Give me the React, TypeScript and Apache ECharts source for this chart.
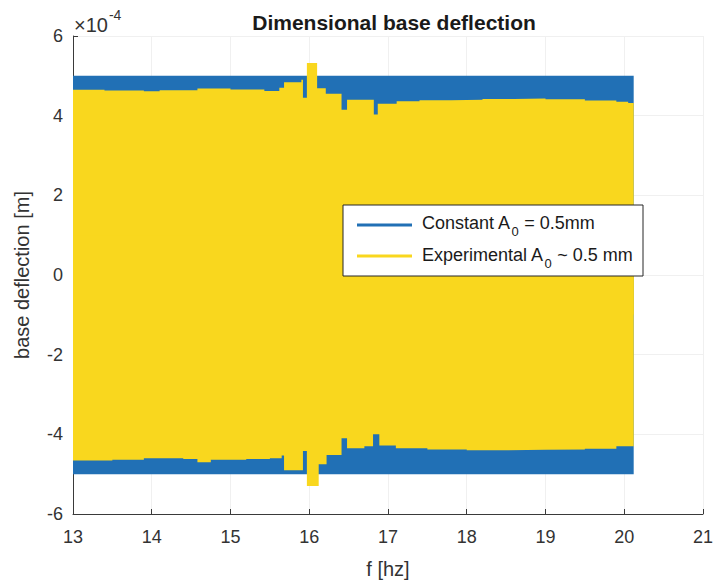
import React, { useEffect, useRef } from "react";
import * as echarts from "echarts";

// Frequency axis [Hz]
const xTicks = [13, 14, 15, 16, 17, 18, 19, 20, 21];
// Deflection in units of 1e-4 m
const yTicks = [-6, -4, -2, 0, 2, 4, 6];

// Constant amplitude A0 = 0.5 mm envelope (x1e-4 m)
const constantUpper: [number, number][] = [
  [13.0, 5.0],
  [20.12, 5.0],
];
const constantLower: [number, number][] = [
  [13.0, -5.0],
  [20.12, -5.0],
];

// Experimental amplitude envelope (x1e-4 m), step-wise per frequency sweep
const experimentalUpper: [number, number][] = [
  [13.0, 4.65], [13.4, 4.63], [13.9, 4.61], [14.1, 4.64], [14.58, 4.68],
  [15.0, 4.66], [15.43, 4.62], [15.62, 4.7], [15.68, 4.84], [15.9, 4.9],
  [15.92, 4.45], [15.97, 5.32], [16.1, 4.69], [16.21, 4.55], [16.41, 4.15],
  [16.48, 4.4], [16.82, 4.03], [16.87, 4.3], [17.11, 4.36], [17.4, 4.39],
  [17.8, 4.4], [18.2, 4.42], [18.6, 4.43], [19.0, 4.41], [19.5, 4.38],
  [19.9, 4.35], [20.05, 4.32], [20.12, 4.32],
];
const experimentalLower: [number, number][] = [
  [13.0, -4.66], [13.5, -4.64], [13.9, -4.6], [14.4, -4.62], [14.58, -4.7],
  [14.75, -4.64], [15.2, -4.62], [15.5, -4.6], [15.65, -4.53], [15.68, -4.9],
  [15.92, -4.42], [15.97, -5.3], [16.12, -4.75], [16.22, -4.52], [16.41, -4.1],
  [16.48, -4.35], [16.7, -4.3], [16.81, -4.0], [16.89, -4.28], [17.1, -4.35],
  [17.5, -4.38], [18.0, -4.4], [18.5, -4.39], [19.0, -4.38], [19.5, -4.36],
  [19.9, -4.3], [20.12, -4.28],
];

const BLUE = "#2170B5";
const YELLOW = "#F9D71E";
const FONT = 'Arial, "Liberation Sans", Helvetica, sans-serif';
const AXIS = "#3a3a3a";

function measure(text: string, size: number, weight = "normal"): number {
  const c = document.createElement("canvas").getContext("2d");
  if (!c) return text.length * size * 0.55;
  c.font = `${weight} ${size}px ${FONT}`;
  return c.measureText(text).width;
}

export default function App() {
  const ref = useRef<HTMLDivElement>(null);
  useEffect(() => {
    if (!ref.current) return;
    const chart = echarts.init(ref.current, undefined, { renderer: "svg" });

    const legFont = 18;
    const subFont = 13;
    const txtX = 422;
    const w1a = measure("Constant A", legFont);
    const w1s = measure("0", subFont);
    const w2a = measure("Experimental A", legFont);
    const w2s = measure("0", subFont);
    const wx = measure("×10", 20);

    const areaSeries = (
      name: string,
      data: [number, number][],
      color: string,
      z: number,
      origin: number
    ) => ({
      name,
      type: "line",
      data,
      step: "end",
      symbol: "none",
      showSymbol: false,
      lineStyle: { width: 0, color },
      areaStyle: { color, opacity: 1, origin },
      z,
      silent: true,
    });

    chart.setOption({
      animation: false,
      backgroundColor: "#ffffff",
      title: {
        text: "Dimensional base deflection",
        left: 389,
        top: 7,
        textAlign: "center",
        textStyle: { fontFamily: FONT, fontSize: 21, fontWeight: "bold", color: "#1a1a1a" },
      },
      grid: { left: 73, right: 10, top: 36, bottom: 67 },
      xAxis: {
        type: "value",
        min: xTicks[0],
        max: xTicks[xTicks.length - 1],
        interval: 1,
        name: "f [hz]",
        nameLocation: "middle",
        nameGap: 45,
        nameTextStyle: { fontFamily: FONT, fontSize: 20, color: "#333" },
        axisLine: { show: true, onZero: false, lineStyle: { color: AXIS, width: 1 } },
        axisTick: { show: true, inside: true, length: 5, lineStyle: { color: AXIS } },
        axisLabel: { fontFamily: FONT, fontSize: 18, color: "#333", margin: 14 },
        splitLine: { show: true, lineStyle: { color: "#f0f0f0", width: 1 } },
      },
      yAxis: {
        type: "value",
        min: yTicks[0],
        max: yTicks[yTicks.length - 1],
        interval: 2,
        name: "base deflection [m]",
        nameLocation: "middle",
        nameGap: 41,
        nameTextStyle: { fontFamily: FONT, fontSize: 20, color: "#333" },
        axisLine: { show: true, onZero: false, lineStyle: { color: AXIS, width: 1 } },
        axisTick: { show: true, inside: true, length: 5, lineStyle: { color: AXIS } },
        axisLabel: { fontFamily: FONT, fontSize: 18, color: "#333", margin: 10 },
        splitLine: { show: true, lineStyle: { color: "#f0f0f0", width: 1 } },
      },
      series: [
        areaSeries("Constant upper", constantUpper, BLUE, 2, -1),
        areaSeries("Constant lower", constantLower, BLUE, 2, 1),
        areaSeries("Experimental upper", experimentalUpper, YELLOW, 3, -1),
        areaSeries("Experimental lower", experimentalLower, YELLOW, 3, 1),
      ],
      graphic: [
        {
          type: "text",
          left: 74,
          top: 15,
          z: 10,
          style: { text: "×10", fontFamily: FONT, fontSize: 20, fill: "#333" },
        },
        {
          type: "text",
          left: 74 + wx + 1,
          top: 8,
          z: 10,
          style: { text: "-4", fontFamily: FONT, fontSize: 14, fill: "#333" },
        },
        {
          type: "rect",
          z: 10,
          shape: { x: 343, y: 205, width: 300, height: 71 },
          style: { fill: "#ffffff", stroke: "#262626", lineWidth: 1 },
        },
        {
          type: "line",
          z: 11,
          shape: { x1: 357, y1: 225, x2: 412, y2: 225 },
          style: { stroke: BLUE, lineWidth: 3 },
        },
        {
          type: "line",
          z: 11,
          shape: { x1: 357, y1: 256, x2: 412, y2: 256 },
          style: { stroke: YELLOW, lineWidth: 3 },
        },
        {
          type: "text", z: 11, x: txtX, y: 223,
          style: { text: "Constant A", fontFamily: FONT, fontSize: legFont, fill: "#1a1a1a", verticalAlign: "middle" },
        },
        {
          type: "text", z: 11, x: txtX + w1a + 0.5, y: 231,
          style: { text: "0", fontFamily: FONT, fontSize: subFont, fill: "#1a1a1a", verticalAlign: "middle" },
        },
        {
          type: "text", z: 11, x: txtX + w1a + w1s + 1, y: 223,
          style: { text: " = 0.5mm", fontFamily: FONT, fontSize: legFont, fill: "#1a1a1a", verticalAlign: "middle" },
        },
        {
          type: "text", z: 11, x: txtX, y: 255,
          style: { text: "Experimental A", fontFamily: FONT, fontSize: legFont, fill: "#1a1a1a", verticalAlign: "middle" },
        },
        {
          type: "text", z: 11, x: txtX + w2a + 0.5, y: 263,
          style: { text: "0", fontFamily: FONT, fontSize: subFont, fill: "#1a1a1a", verticalAlign: "middle" },
        },
        {
          type: "text", z: 11, x: txtX + w2a + w2s + 1, y: 255,
          style: { text: " ~ 0.5 mm", fontFamily: FONT, fontSize: legFont, fill: "#1a1a1a", verticalAlign: "middle" },
        },
      ],
    });
    return () => chart.dispose();
  }, []);

  return (
    <div
      ref={ref}
      style={{ position: "fixed", left: 0, top: 0, width: 716, height: 584, background: "#fff" }}
    />
  );
}
